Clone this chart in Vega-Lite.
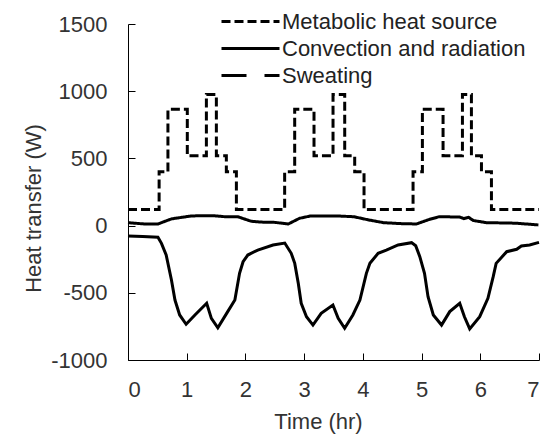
{
  "$schema": "https://vega.github.io/schema/vega-lite/v6.json",
  "width": 411,
  "height": 336,
  "autosize": "none",
  "padding": {"left": 128, "top": 24, "right": 10, "bottom": 75},
  "background": "white",
  "config": {
    "view": {"stroke": null},
    "font": "Liberation Sans",
    "axis": {
      "grid": false,
      "domainColor": "#000000",
      "domainWidth": 1,
      "tickColor": "#000000",
      "tickSize": -7,
      "labelFont": "Liberation Sans",
      "labelFontSize": 22,
      "labelColor": "#333333",
      "titleFont": "Liberation Sans",
      "titleFontSize": 22,
      "titleFontWeight": "normal",
      "titleColor": "#333333"
    },
    "legend": {
      "orient": "none",
      "legendX": 111,
      "legendY": -14,
      "labelFont": "Liberation Sans",
      "labelFontSize": 22,
      "labelColor": "#222222",
      "symbolSize": 400,
      "symbolStrokeWidth": 3,
      "symbolStrokeColor": "#000000",
      "symbolType": "M-2.9,0L2.9,0",
      "labelOffset": 20,
      "rowPadding": 4,
      "labelLimit": 400
    }
  },
  "datasets": {
    "metabolic": [
      {"t": 0, "v": 120, "series": "Metabolic heat source"},
      {"t": 0.53, "v": 400, "series": "Metabolic heat source"},
      {"t": 0.68, "v": 865, "series": "Metabolic heat source"},
      {"t": 1.01, "v": 520, "series": "Metabolic heat source"},
      {"t": 1.335, "v": 975, "series": "Metabolic heat source"},
      {"t": 1.505, "v": 520, "series": "Metabolic heat source"},
      {"t": 1.675, "v": 400, "series": "Metabolic heat source"},
      {"t": 1.846, "v": 120, "series": "Metabolic heat source"},
      {"t": 2.668, "v": 400, "series": "Metabolic heat source"},
      {"t": 2.839, "v": 865, "series": "Metabolic heat source"},
      {"t": 3.168, "v": 520, "series": "Metabolic heat source"},
      {"t": 3.492, "v": 975, "series": "Metabolic heat source"},
      {"t": 3.691, "v": 520, "series": "Metabolic heat source"},
      {"t": 3.861, "v": 400, "series": "Metabolic heat source"},
      {"t": 4.02, "v": 120, "series": "Metabolic heat source"},
      {"t": 4.855, "v": 400, "series": "Metabolic heat source"},
      {"t": 5.014, "v": 865, "series": "Metabolic heat source"},
      {"t": 5.366, "v": 520, "series": "Metabolic heat source"},
      {"t": 5.696, "v": 975, "series": "Metabolic heat source"},
      {"t": 5.849, "v": 520, "series": "Metabolic heat source"},
      {"t": 6.02, "v": 400, "series": "Metabolic heat source"},
      {"t": 6.19, "v": 120, "series": "Metabolic heat source"},
      {"t": 7.0, "v": 120, "series": "Metabolic heat source"}
    ],
    "convection": [
      {"t": 0, "v": 22, "series": "Convection and radiation"},
      {"t": 0.28, "v": 12, "series": "Convection and radiation"},
      {"t": 0.51, "v": 12, "series": "Convection and radiation"},
      {"t": 0.74, "v": 50, "series": "Convection and radiation"},
      {"t": 1.08, "v": 72, "series": "Convection and radiation"},
      {"t": 1.45, "v": 74, "series": "Convection and radiation"},
      {"t": 1.65, "v": 66, "series": "Convection and radiation"},
      {"t": 1.87, "v": 66, "series": "Convection and radiation"},
      {"t": 2.1, "v": 32, "series": "Convection and radiation"},
      {"t": 2.27, "v": 26, "series": "Convection and radiation"},
      {"t": 2.5, "v": 24, "series": "Convection and radiation"},
      {"t": 2.73, "v": 12, "series": "Convection and radiation"},
      {"t": 2.92, "v": 54, "series": "Convection and radiation"},
      {"t": 3.1, "v": 71, "series": "Convection and radiation"},
      {"t": 3.6, "v": 71, "series": "Convection and radiation"},
      {"t": 3.85, "v": 66, "series": "Convection and radiation"},
      {"t": 4.1, "v": 42, "series": "Convection and radiation"},
      {"t": 4.35, "v": 22, "series": "Convection and radiation"},
      {"t": 4.63, "v": 15, "series": "Convection and radiation"},
      {"t": 4.91, "v": 12, "series": "Convection and radiation"},
      {"t": 5.14, "v": 47, "series": "Convection and radiation"},
      {"t": 5.3, "v": 66, "series": "Convection and radiation"},
      {"t": 5.65, "v": 64, "series": "Convection and radiation"},
      {"t": 5.72, "v": 52, "series": "Convection and radiation"},
      {"t": 5.8, "v": 62, "series": "Convection and radiation"},
      {"t": 5.88, "v": 38, "series": "Convection and radiation"},
      {"t": 6.1, "v": 22, "series": "Convection and radiation"},
      {"t": 6.6, "v": 18, "series": "Convection and radiation"},
      {"t": 6.99, "v": 5, "series": "Convection and radiation"}
    ],
    "sweating": [
      {"t": 0, "v": -77, "series": "Sweating"},
      {"t": 0.25, "v": -82, "series": "Sweating"},
      {"t": 0.51, "v": -87, "series": "Sweating"},
      {"t": 0.57, "v": -132, "series": "Sweating"},
      {"t": 0.65, "v": -219, "series": "Sweating"},
      {"t": 0.74, "v": -405, "series": "Sweating"},
      {"t": 0.8, "v": -554, "series": "Sweating"},
      {"t": 0.88, "v": -665, "series": "Sweating"},
      {"t": 0.99, "v": -734, "series": "Sweating"},
      {"t": 1.14, "v": -665, "series": "Sweating"},
      {"t": 1.31, "v": -591, "series": "Sweating"},
      {"t": 1.34, "v": -578, "series": "Sweating"},
      {"t": 1.42, "v": -690, "series": "Sweating"},
      {"t": 1.53, "v": -760, "series": "Sweating"},
      {"t": 1.68, "v": -653, "series": "Sweating"},
      {"t": 1.82, "v": -554, "series": "Sweating"},
      {"t": 1.9, "v": -355, "series": "Sweating"},
      {"t": 1.96, "v": -269, "series": "Sweating"},
      {"t": 2.04, "v": -219, "series": "Sweating"},
      {"t": 2.21, "v": -182, "series": "Sweating"},
      {"t": 2.47, "v": -144, "series": "Sweating"},
      {"t": 2.67, "v": -130, "series": "Sweating"},
      {"t": 2.78, "v": -206, "series": "Sweating"},
      {"t": 2.84, "v": -281, "series": "Sweating"},
      {"t": 2.9, "v": -429, "series": "Sweating"},
      {"t": 2.95, "v": -578, "series": "Sweating"},
      {"t": 3.04, "v": -678, "series": "Sweating"},
      {"t": 3.15, "v": -740, "series": "Sweating"},
      {"t": 3.29, "v": -653, "series": "Sweating"},
      {"t": 3.49, "v": -591, "series": "Sweating"},
      {"t": 3.58, "v": -690, "series": "Sweating"},
      {"t": 3.69, "v": -764, "series": "Sweating"},
      {"t": 3.83, "v": -665, "series": "Sweating"},
      {"t": 3.95, "v": -554, "series": "Sweating"},
      {"t": 4.06, "v": -355, "series": "Sweating"},
      {"t": 4.12, "v": -281, "series": "Sweating"},
      {"t": 4.26, "v": -206, "series": "Sweating"},
      {"t": 4.4, "v": -182, "series": "Sweating"},
      {"t": 4.6, "v": -144, "series": "Sweating"},
      {"t": 4.83, "v": -127, "series": "Sweating"},
      {"t": 4.9, "v": -150, "series": "Sweating"},
      {"t": 4.97, "v": -231, "series": "Sweating"},
      {"t": 5.05, "v": -355, "series": "Sweating"},
      {"t": 5.11, "v": -529, "series": "Sweating"},
      {"t": 5.2, "v": -665, "series": "Sweating"},
      {"t": 5.34, "v": -740, "series": "Sweating"},
      {"t": 5.48, "v": -640, "series": "Sweating"},
      {"t": 5.65, "v": -578, "series": "Sweating"},
      {"t": 5.73, "v": -678, "series": "Sweating"},
      {"t": 5.82, "v": -769, "series": "Sweating"},
      {"t": 5.99, "v": -678, "series": "Sweating"},
      {"t": 6.13, "v": -541, "series": "Sweating"},
      {"t": 6.22, "v": -380, "series": "Sweating"},
      {"t": 6.27, "v": -281, "series": "Sweating"},
      {"t": 6.45, "v": -194, "series": "Sweating"},
      {"t": 6.62, "v": -176, "series": "Sweating"},
      {"t": 6.7, "v": -152, "series": "Sweating"},
      {"t": 6.84, "v": -144, "series": "Sweating"},
      {"t": 7.0, "v": -125, "series": "Sweating"}
    ]
  },
  "encoding": {
    "x": {
      "field": "t",
      "type": "quantitative",
      "scale": {"domain": [0, 7], "nice": false},
      "axis": {"title": "Time (hr)", "values": [0, 1, 2, 3, 4, 5, 6, 7], "labelExpr": "'' + datum.value", "labelPadding": 26, "titlePadding": 11, "titleX": 190}
    },
    "y": {
      "field": "v",
      "type": "quantitative",
      "scale": {"domain": [-1000, 1500], "nice": false},
      "axis": {"title": "Heat transfer (W)", "values": [-1000, -500, 0, 500, 1000, 1500], "labelExpr": "'' + datum.value", "labelPadding": 28, "titlePadding": 5, "titleY": 184}
    }
  },
  "layer": [
    {
      "data": {"name": "metabolic"},
      "mark": {"type": "line", "interpolate": "step-after", "color": "#000000", "strokeWidth": 3},
      "encoding": {
        "strokeDash": {
          "field": "series",
          "type": "nominal",
          "scale": {
            "domain": ["Metabolic heat source", "Convection and radiation", "Sweating"],
            "range": [[9, 4], [1, 0], [25, 18]]
          },
          "legend": {"title": null}
        }
      }
    },
    {
      "data": {"name": "convection"},
      "mark": {"type": "line", "color": "#000000", "strokeWidth": 3},
      "encoding": {
        "strokeDash": {"field": "series", "type": "nominal"}
      }
    },
    {
      "data": {"name": "sweating"},
      "mark": {"type": "line", "color": "#000000", "strokeWidth": 3},
      "encoding": {}
    }
  ]
}
